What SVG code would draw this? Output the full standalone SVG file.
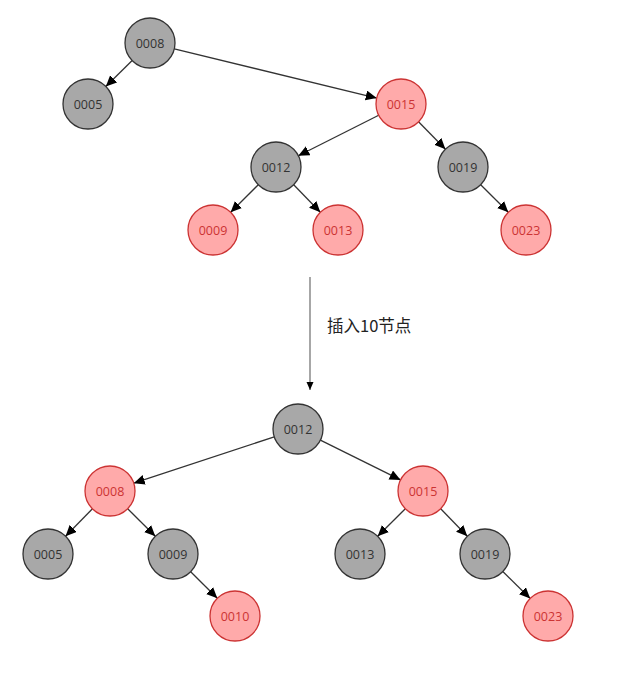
<svg xmlns="http://www.w3.org/2000/svg" width="620" height="688" viewBox="0 0 620 688">
<defs>
<marker id="arr" markerWidth="12" markerHeight="11" refX="11" refY="5" orient="auto" markerUnits="userSpaceOnUse">
<path d="M0,0 L11,5 L0,10 Z" fill="#000"/>
</marker>
<marker id="arrs" markerWidth="8" markerHeight="8" refX="8" refY="3.5" orient="auto" markerUnits="userSpaceOnUse">
<path d="M0,0 L8,3.5 L0,7 Z" fill="#000"/>
</marker>
<style>
.b circle{fill:#a8a8a8;stroke:#333;stroke-width:1.3}
.r circle{fill:#ffaaaa;stroke:#cc3333;stroke-width:1.3}
text{font-family:"Open Sans","Noto Sans",sans-serif;font-size:12.5px;text-anchor:middle;dominant-baseline:central}
.b text{fill:#333}
.r text{fill:#cc3333}
.e line{stroke:#333;stroke-width:1.3;marker-end:url(#arr)}
.lbl{font-family:"Noto Sans CJK SC","Open Sans",sans-serif;font-size:16.5px;text-anchor:start;fill:#222}
</style>
</defs>
<g id="connectors" class="e">
<line x1="132.18" y1="60.53" x2="105.82" y2="86.47"/>
<line x1="174.29" y1="48.90" x2="376.71" y2="98.10"/>
<line x1="378.68" y1="115.25" x2="298.33" y2="155.75"/>
<line x1="418.54" y1="121.82" x2="445.46" y2="149.18"/>
<line x1="258.32" y1="184.68" x2="230.68" y2="212.32"/>
<line x1="293.68" y1="184.68" x2="320.32" y2="212.32"/>
<line x1="480.68" y1="184.68" x2="508.32" y2="212.32"/>
<line x1="274.26" y1="436.83" x2="133.74" y2="483.17"/>
<line x1="320.40" y1="440.11" x2="400.60" y2="479.89"/>
<line x1="92.46" y1="508.82" x2="65.54" y2="536.18"/>
<line x1="127.68" y1="508.68" x2="155.32" y2="536.32"/>
<line x1="190.68" y1="571.68" x2="217.32" y2="598.32"/>
<line x1="405.32" y1="508.68" x2="377.68" y2="536.32"/>
<line x1="440.68" y1="508.68" x2="467.32" y2="536.32"/>
<line x1="502.82" y1="571.54" x2="530.18" y2="598.46"/>
<line x1="310" y1="277" x2="310" y2="390" style="stroke:#777;stroke-width:1.3;marker-end:url(#arrs)"/>
</g>
<text id="label" class="lbl" x="327" y="325">插入10节点</text>
<g id="t1-0008" class="b"><circle cx="150" cy="43" r="25"/><text x="150" y="43">0008</text></g>
<g id="t1-0005" class="b"><circle cx="88" cy="104" r="25"/><text x="88" y="104">0005</text></g>
<g id="t1-0015" class="r"><circle cx="401" cy="104" r="25"/><text x="401" y="104">0015</text></g>
<g id="t1-0012" class="b"><circle cx="276" cy="167" r="25"/><text x="276" y="167">0012</text></g>
<g id="t1-0019" class="b"><circle cx="463" cy="167" r="25"/><text x="463" y="167">0019</text></g>
<g id="t1-0009" class="r"><circle cx="213" cy="230" r="25"/><text x="213" y="230">0009</text></g>
<g id="t1-0013" class="r"><circle cx="338" cy="230" r="25"/><text x="338" y="230">0013</text></g>
<g id="t1-0023" class="r"><circle cx="526" cy="230" r="25"/><text x="526" y="230">0023</text></g>
<g id="t2-0012" class="b"><circle cx="298" cy="429" r="25"/><text x="298" y="429">0012</text></g>
<g id="t2-0008" class="r"><circle cx="110" cy="491" r="25"/><text x="110" y="491">0008</text></g>
<g id="t2-0015" class="r"><circle cx="423" cy="491" r="25"/><text x="423" y="491">0015</text></g>
<g id="t2-0005" class="b"><circle cx="48" cy="554" r="25"/><text x="48" y="554">0005</text></g>
<g id="t2-0009" class="b"><circle cx="173" cy="554" r="25"/><text x="173" y="554">0009</text></g>
<g id="t2-0010" class="r"><circle cx="235" cy="616" r="25"/><text x="235" y="616">0010</text></g>
<g id="t2-0013" class="b"><circle cx="360" cy="554" r="25"/><text x="360" y="554">0013</text></g>
<g id="t2-0019" class="b"><circle cx="485" cy="554" r="25"/><text x="485" y="554">0019</text></g>
<g id="t2-0023" class="r"><circle cx="548" cy="616" r="25"/><text x="548" y="616">0023</text></g>
</svg>
